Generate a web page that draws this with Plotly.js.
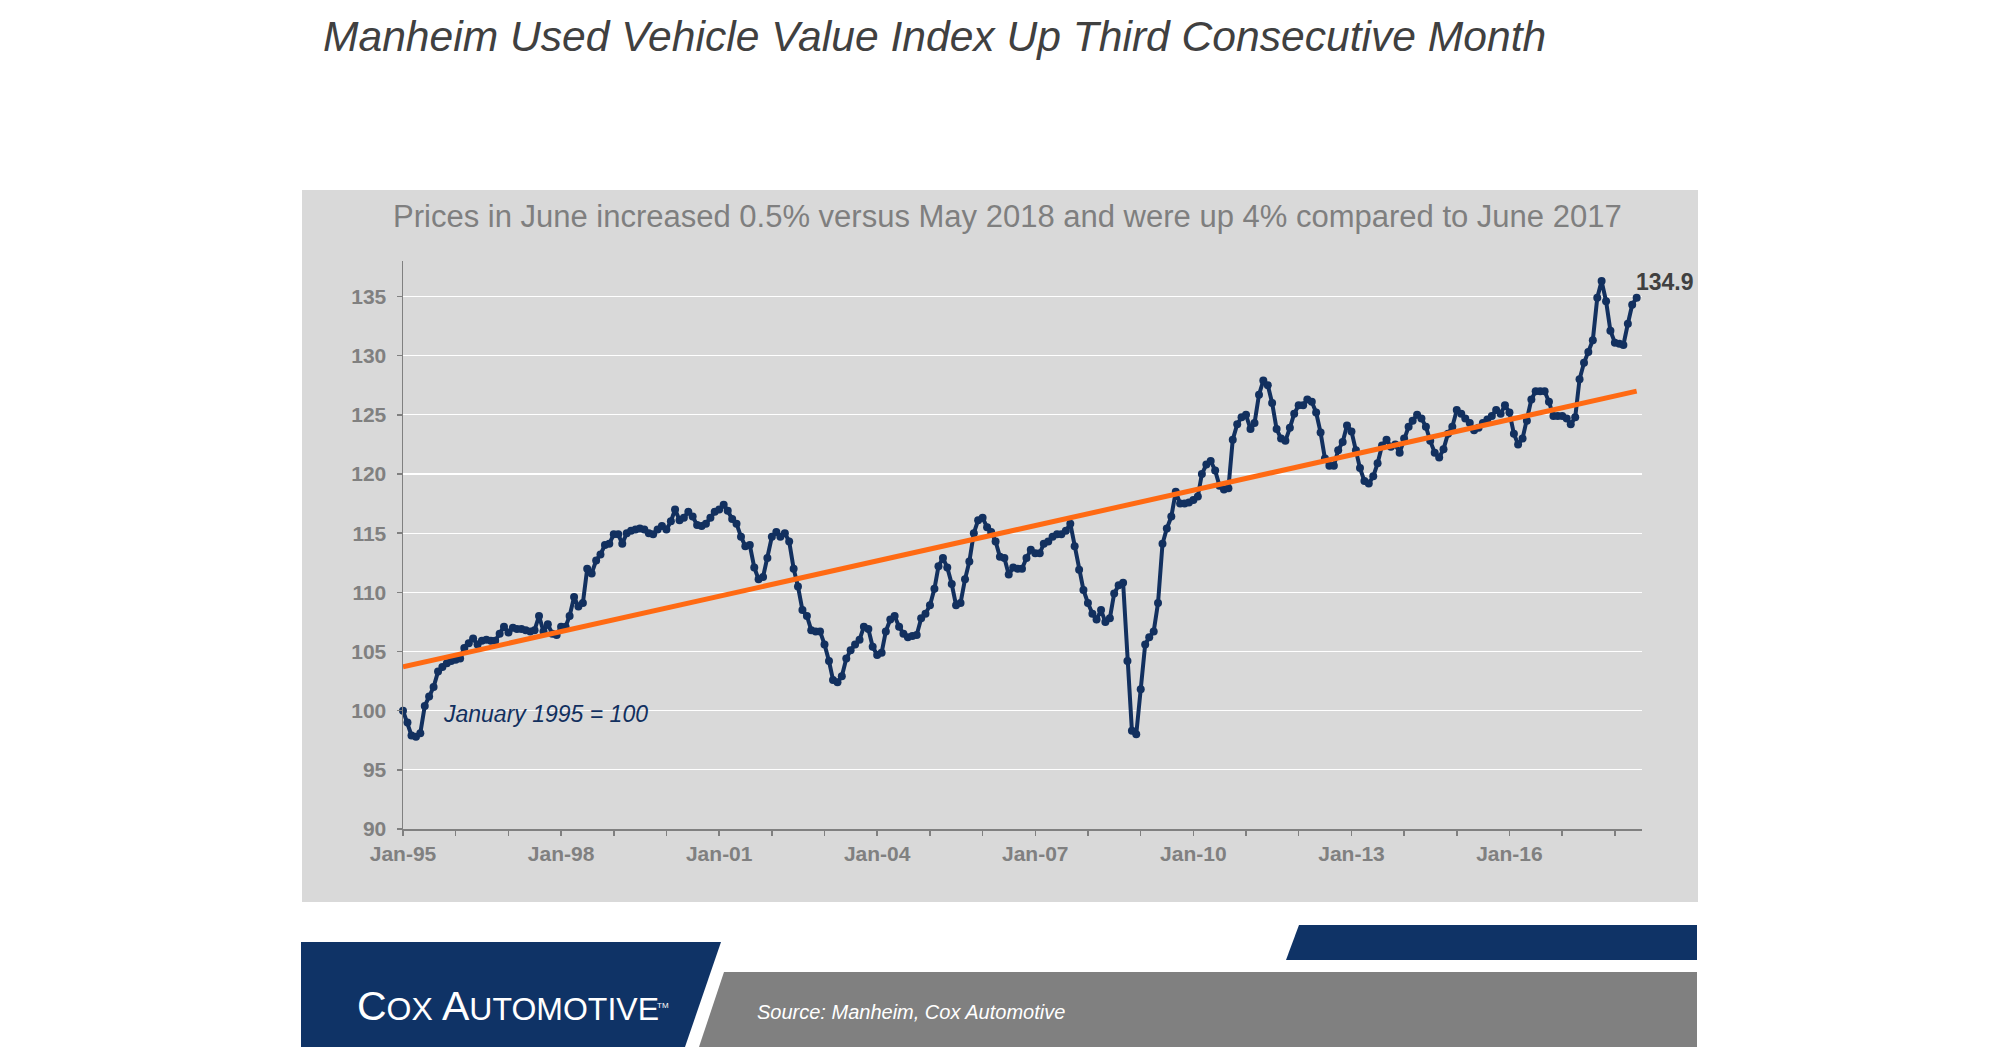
<!DOCTYPE html>
<html><head><meta charset="utf-8">
<script src="https://cdn.plot.ly/plotly-3.0.1.min.js"></script>
<style>html,body{margin:0;padding:0;background:#fff;overflow:hidden}#chart{width:2000px;height:1047px}</style>
</head><body><div id="chart"></div>
<script>
// ---------------- DATA ----------------
const startYear = 1995;
const indexValues = [
  100.0, 99.0, 97.9, 97.8, 98.1, 100.4, 101.2, 102.0, 103.3, 103.7, 104.0, 104.2, // 1995
  104.3, 104.4, 105.3, 105.7, 106.1, 105.6, 105.9, 106.0, 105.9, 105.9, 106.5, 107.1, // 1996
  106.6, 107.0, 106.9, 106.9, 106.8, 106.7, 106.8, 108.0, 106.7, 107.3, 106.5, 106.4, // 1997
  107.1, 107.1, 108.0, 109.6, 108.8, 109.1, 112.0, 111.6, 112.7, 113.2, 114.0, 114.1, // 1998
  114.9, 114.9, 114.1, 115.0, 115.2, 115.3, 115.4, 115.3, 115.0, 114.9, 115.3, 115.6, // 1999
  115.3, 116.0, 117.0, 116.1, 116.3, 116.8, 116.4, 115.7, 115.6, 115.8, 116.3, 116.8, // 2000
  117.0, 117.4, 116.9, 116.2, 115.8, 114.7, 113.9, 114.0, 112.1, 111.1, 111.3, 112.9, // 2001
  114.7, 115.1, 114.7, 115.0, 114.3, 112.0, 110.5, 108.5, 108.0, 106.8, 106.7, 106.7, // 2002
  105.6, 104.2, 102.6, 102.4, 102.9, 104.4, 105.1, 105.6, 106.0, 107.1, 106.9, 105.4, // 2003
  104.7, 104.9, 106.7, 107.7, 108.0, 107.1, 106.5, 106.2, 106.3, 106.4, 107.8, 108.2, // 2004
  108.9, 110.3, 112.2, 112.9, 112.1, 110.7, 108.9, 109.1, 111.1, 112.6, 115.0, 116.1, // 2005
  116.3, 115.5, 115.1, 114.3, 113.0, 112.9, 111.5, 112.1, 112.0, 112.0, 112.9, 113.6, // 2006
  113.3, 113.3, 114.1, 114.3, 114.7, 114.9, 114.9, 115.2, 115.8, 113.9, 111.9, 110.2, // 2007
  109.1, 108.2, 107.7, 108.5, 107.5, 107.8, 109.9, 110.6, 110.8, 104.2, 98.3, 98.0,   // 2008
  101.8, 105.6, 106.2, 106.7, 109.1, 114.1, 115.4, 116.4, 118.5, 117.5, 117.5, 117.6, // 2009
  117.8, 118.1, 120.0, 120.8, 121.1, 120.3, 119.0, 118.7, 118.8, 122.9, 124.2, 124.8, // 2010
  125.0, 123.8, 124.3, 126.7, 127.9, 127.5, 126.0, 123.8, 123.0, 122.8, 123.9, 125.1, // 2011
  125.8, 125.8, 126.3, 126.1, 125.2, 123.5, 121.3, 120.7, 120.7, 122.0, 122.7, 124.1, // 2012
  123.6, 122.0, 120.5, 119.4, 119.2, 119.8, 120.9, 122.4, 122.9, 122.3, 122.5, 121.8, // 2013
  123.0, 124.0, 124.5, 125.0, 124.7, 124.0, 122.8, 121.8, 121.4, 122.1, 123.4, 124.0, // 2014
  125.4, 125.1, 124.7, 124.3, 123.7, 123.9, 124.3, 124.6, 124.9, 125.4, 125.1, 125.8, // 2015
  125.2, 123.4, 122.5, 123.0, 124.5, 126.3, 127.0, 127.0, 127.0, 126.1, 124.9, 124.9, // 2016
  124.9, 124.7, 124.2, 124.8, 128.0, 129.4, 130.3, 131.3, 134.9, 136.3, 134.6, 132.1, // 2017
  131.1, 131.0, 130.9, 132.7, 134.3, 134.9                                            // 2018
];
const trendDates = ['1995-01-01', '2018-06-01'];
const trendValues = [103.7, 127.0];
const yTickVals = [90, 95, 100, 105, 110, 115, 120, 125, 130, 135];
const titleText = 'Manheim Used Vehicle Value Index Up Third Consecutive Month';
const subtitleText = 'Prices in June increased 0.5% versus May 2018 and were up 4% compared to June 2017';
const baseNote = 'January 1995 = 100';
const lastLabel = '134.9';
const sourceText = 'Source: Manheim, Cox Automotive';

// month dates for the series
const months = indexValues.map((v, i) => {
  const y = startYear + Math.floor(i / 12);
  const m = (i % 12) + 1;
  return y + '-' + String(m).padStart(2, '0') + '-01';
});

// ---------------- GEOMETRY ----------------
const W = 2000, H = 1047;
const M = {l: 403, r: 358, t: 261, b: 218};
const PW = W - M.l - M.r, PH = H - M.t - M.b;
const X = px => (px - M.l) / PW;
const Y = py => (H - M.b - py) / PH;
const poly = pts => 'M' + pts.map(p => X(p[0]).toFixed(5) + ',' + Y(p[1]).toFixed(5)).join(' L') + ' Z';

const NAVY = '#12305F';
const FONT = 'Liberation Sans, Arial, sans-serif';

const traces = [
  {
    type: 'scatter', mode: 'lines+markers', x: months, y: indexValues,
    line: {color: NAVY, width: 4}, marker: {color: NAVY, size: 8},
    cliponaxis: false, hoverinfo: 'skip', showlegend: false
  },
  {
    type: 'scatter', mode: 'lines', x: trendDates, y: trendValues,
    line: {color: '#FF6A13', width: 5}, cliponaxis: false, hoverinfo: 'skip', showlegend: false
  }
];

const axisFont = {family: FONT, size: 21, color: '#808080', weight: 'bold'};

const layout = {
  width: W, height: H,
  margin: M,
  paper_bgcolor: '#FFFFFF',
  plot_bgcolor: 'rgba(0,0,0,0)',
  showlegend: false,
  title: {
    text: titleText,
    font: {family: FONT, size: 42.6, color: '#404040', style: 'italic'},
    x: 323 / W, xanchor: 'left', xref: 'container',
    y: 1 - 36 / H, yanchor: 'middle', yref: 'container'
  },
  xaxis: {
    type: 'date', range: ['1995-01-01', '2018-07-08'],
    tickformat: '%b-%y', dtick: 'M36', tick0: '1995-01-01',
    ticks: 'outside', ticklen: 5, tickwidth: 1.5, tickcolor: '#808080',
    showline: true, linecolor: '#808080', linewidth: 1.5,
    showgrid: false, zeroline: false, tickfont: axisFont,
    minor: {dtick: 'M12', tick0: '1995-01-01', ticks: 'outside', ticklen: 5, tickwidth: 1.5, tickcolor: '#808080', showgrid: false},
    fixedrange: true
  },
  yaxis: {
    range: [90, 138], tickvals: yTickVals,
    ticks: 'outside', ticklen: 5, tickwidth: 1.5, tickcolor: '#808080',
    showline: true, linecolor: '#808080', linewidth: 1.5,
    gridcolor: '#FFFFFF', gridwidth: 1.3, zeroline: false,
    tickfont: axisFont, ticklabelstandoff: 6, fixedrange: true
  },
  shapes: [
    {type: 'rect', xref: 'paper', yref: 'paper', x0: X(302), x1: X(1698), y0: Y(902), y1: Y(190),
     fillcolor: '#D9D9D9', line: {width: 0}, layer: 'below'},
    {type: 'path', xref: 'paper', yref: 'paper', path: poly([[301, 942], [721, 942], [685, 1047], [301, 1047]]),
     fillcolor: '#0F3366', line: {width: 0}, layer: 'below'},
    {type: 'path', xref: 'paper', yref: 'paper', path: poly([[724, 972], [1697, 972], [1697, 1047], [699, 1047]]),
     fillcolor: '#808080', line: {width: 0}, layer: 'below'},
    {type: 'path', xref: 'paper', yref: 'paper', path: poly([[1299, 925], [1697, 925], [1697, 960], [1286, 960]]),
     fillcolor: '#0F3366', line: {width: 0}, layer: 'below'}
  ],
  annotations: [
    {text: subtitleText, xref: 'paper', yref: 'paper', x: X(1007), y: Y(216.5), xanchor: 'center', yanchor: 'middle',
     showarrow: false, font: {family: FONT, size: 31, color: '#7F7F7F'}},
    {text: baseNote, xref: 'paper', yref: 'paper', x: X(441), y: Y(714), xanchor: 'left', yanchor: 'middle',
     showarrow: false, font: {family: FONT, size: 23, color: NAVY, style: 'italic'}},
    {text: lastLabel, xref: 'x', yref: 'y', x: months[months.length - 1], y: indexValues[indexValues.length - 1],
     xanchor: 'left', yanchor: 'bottom', xshift: -3, yshift: 1, showarrow: false,
     font: {family: FONT, size: 23, color: '#404040', weight: 'bold'}},
    {text: 'C<span style="font-size:32px">OX</span> A<span style="font-size:32px">UTOMOTIVE</span>',
     xref: 'paper', yref: 'paper', x: X(355), y: Y(1006), xanchor: 'left', yanchor: 'middle',
     showarrow: false, font: {family: FONT, size: 41, color: '#FFFFFF'}},
    {text: 'TM', xref: 'paper', yref: 'paper', x: X(655), y: Y(1005), xanchor: 'left', yanchor: 'middle',
     showarrow: false, font: {family: FONT, size: 8, color: '#FFFFFF'}},
    {text: sourceText, xref: 'paper', yref: 'paper', x: X(755), y: Y(1012), xanchor: 'left', yanchor: 'middle',
     showarrow: false, font: {family: FONT, size: 20, color: '#FFFFFF', style: 'italic'}}
  ]
};

Plotly.newPlot('chart', traces, layout, {displayModeBar: false, staticPlot: true});
</script></body></html>
